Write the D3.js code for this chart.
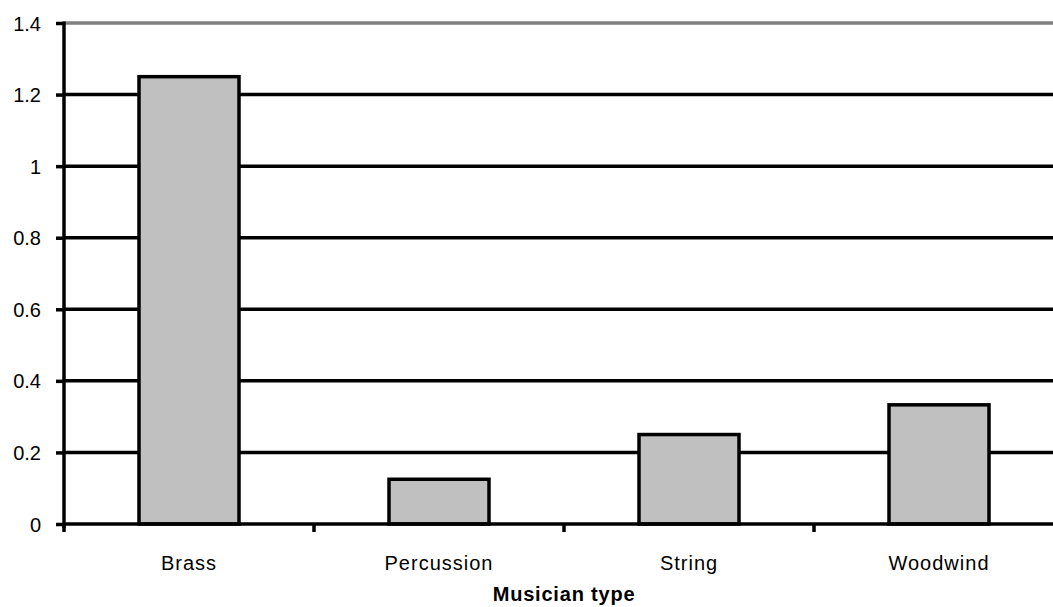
<!DOCTYPE html>
<html>
<head>
<meta charset="utf-8">
<script src="https://cdn.jsdelivr.net/npm/d3@7"></script>
<style>
    body { margin: 0; background: #fff; }
    text { font-family: Arial, "Liberation Sans", sans-serif; fill: #000; }
</style>
</head>
<body>
<svg></svg>
<script>
const categories = ['Brass', 'Percussion', 'String', 'Woodwind'];
const values = [1.25, 0.125, 0.25, 0.333];
const yTicks = [0, 0.2, 0.4, 0.6, 0.8, 1, 1.2, 1.4];

const margin = { top: 23, right: -11, bottom: 83, left: 64 };
const W = 1053, H = 607;
const w = W - margin.left - margin.right;
const h = H - margin.top - margin.bottom;
const sw = 3.5;

let svg = d3.select('svg')
            .attr('width', W)
            .attr('height', H);

let g = svg.append('g')
            .attr('transform', `translate(${margin.left}, ${margin.top})`);

let xScale = d3.scaleBand()
                .domain(categories)
                .range([0, w])
                .paddingInner(0.6)
                .paddingOuter(0.3);

let yScale = d3.scaleLinear()
                .domain([0, 1.4])
                .range([h, 0]);

// gridlines (top one is grey)
g.selectAll('.grid')
    .data(yTicks.filter(d => d > 0))
    .enter()
    .append('line')
    .attr('x1', 0)
    .attr('x2', w)
    .attr('y1', d => yScale(d))
    .attr('y2', d => yScale(d))
    .style('stroke', d => d === 1.4 ? '#808080' : '#000')
    .style('stroke-width', sw);

// bars
g.selectAll('rect')
    .data(values)
    .enter()
    .append('rect')
    .attr('x', (d, i) => xScale(categories[i]))
    .attr('y', d => yScale(d))
    .attr('width', xScale.bandwidth())
    .attr('height', d => h - yScale(d))
    .style('fill', '#c0c0c0')
    .style('stroke', '#000')
    .style('stroke-width', sw);

// y axis
let yAxis = d3.axisLeft(yScale)
                .tickValues(yTicks)
                .tickFormat(d3.format('~g'))
                .tickSize(8)
                .tickPadding(15);

let yg = g.append('g').call(yAxis);
yg.select('.domain').remove();
yg.selectAll('.tick line').style('stroke-width', sw);
yg.selectAll('.tick text')
    .style('font-size', '20px')
    .attr('dy', '0.35em');

g.append('line')
    .attr('x1', 0).attr('x2', 0)
    .attr('y1', -1.5).attr('y2', h + 4)
    .style('stroke', '#000')
    .style('stroke-width', sw);

// x axis
g.append('line')
    .attr('x1', 0).attr('x2', w)
    .attr('y1', h).attr('y2', h)
    .style('stroke', '#000')
    .style('stroke-width', sw);

g.selectAll('.xtick')
    .data(d3.range(categories.length + 1))
    .enter()
    .append('line')
    .attr('x1', i => i * xScale.step())
    .attr('x2', i => i * xScale.step())
    .attr('y1', h)
    .attr('y2', h + 8)
    .style('stroke', '#000')
    .style('stroke-width', sw);

g.selectAll('.xlabel')
    .data(categories)
    .enter()
    .append('text')
    .attr('x', d => xScale(d) + xScale.bandwidth() / 2)
    .attr('y', h + 46)
    .style('text-anchor', 'middle')
    .style('font-size', '20px')
    .style('letter-spacing', '1px')
    .text(d => d);

//x-axis title
g.append('text')
    .attr('x', w / 2)
    .attr('y', h + 77)
    .style('text-anchor', 'middle')
    .style('font-size', '20px')
    .style('font-weight', 'bold')
    .style('letter-spacing', '0.8px')
    .text('Musician type');
</script>
</body>
</html>
